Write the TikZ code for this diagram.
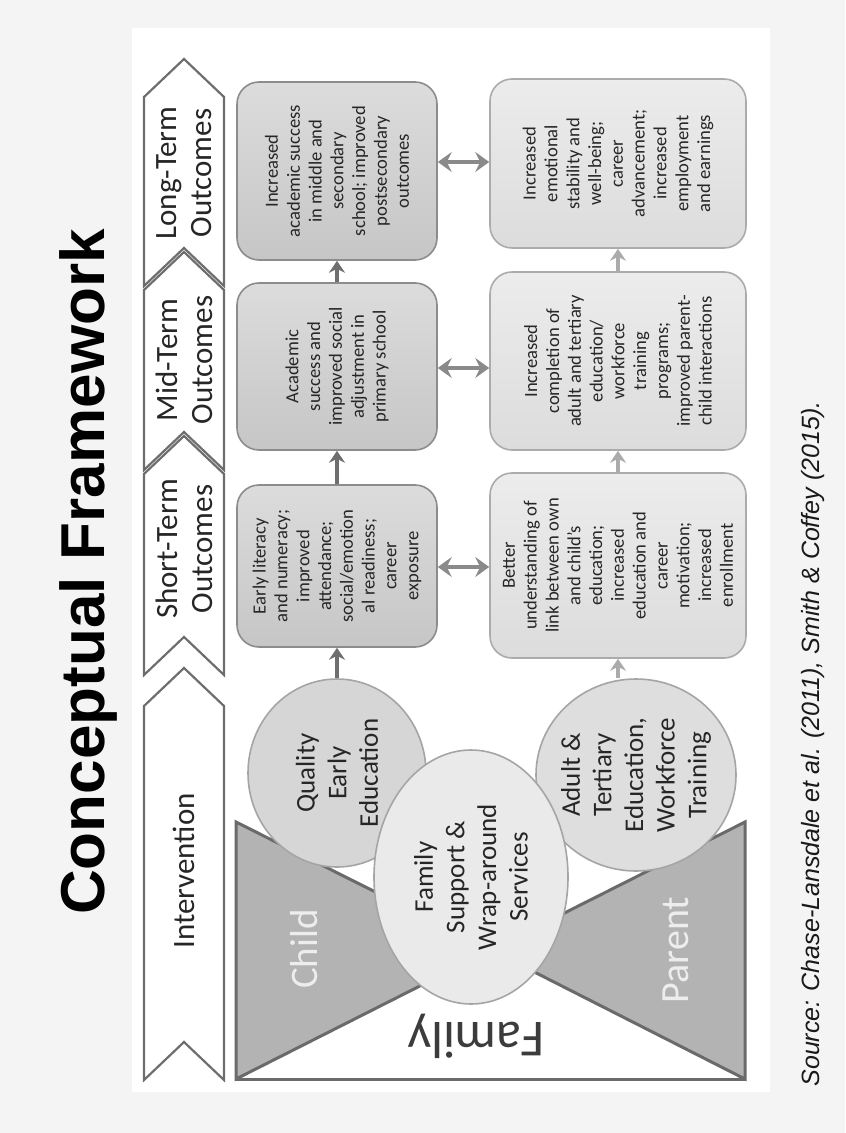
\documentclass[tikz,border=0pt]{standalone}
\usepackage{fontspec}
\setmainfont{Carlito}
\newfontfamily\arialf{Liberation Sans}
\usetikzlibrary{arrows.meta,shapes.geometric,calc}
\definecolor{bgc}{HTML}{F4F4F4}
\definecolor{chevc}{HTML}{6E6E6E}
\definecolor{txtc}{HTML}{262626}
\definecolor{boxAl}{HTML}{DCDCDC}
\definecolor{boxAr}{HTML}{C6C6C6}
\definecolor{boxAd}{HTML}{8C8C8C}
\definecolor{boxBl}{HTML}{ECECEC}
\definecolor{boxBr}{HTML}{DCDCDC}
\definecolor{boxBd}{HTML}{ABABAB}
\definecolor{ellQ}{HTML}{D6D6D6}
\definecolor{ellA}{HTML}{DEDEDE}
\definecolor{ellF}{HTML}{EAEAEA}
\definecolor{elld}{HTML}{A5A5A5}
\definecolor{tric}{HTML}{B3B3B3}
\definecolor{trid}{HTML}{6A6A6A}
\definecolor{arrTc}{HTML}{6E6E6E}
\definecolor{arrBc}{HTML}{ABABAB}
\definecolor{dblc}{HTML}{8A8A8A}
\definecolor{kidc}{HTML}{EDEDED}
\tikzset{
  chev/.style={draw=chevc, line width=1.1pt, fill=white, line join=miter},
  chevtxt/.style={rotate=90, align=center, text=txtc, font=\fontsize{15.5}{17.5}\selectfont, inner sep=0pt},
  boxA/.style={rotate=90, draw=boxAd, top color=boxAl, bottom color=boxAr, rounded corners=11pt, line width=0.8pt, inner sep=0pt, align=center, text=txtc, font=\fontsize{9.3}{10.9}\selectfont, minimum height=100pt},
  boxB/.style={rotate=90, draw=boxBd, top color=boxBl, bottom color=boxBr, rounded corners=11pt, line width=0.8pt, inner sep=0pt, align=center, text=txtc, font=\fontsize{9.3}{10.9}\selectfont, minimum height=128pt},
  ell/.style={ellipse, draw=elld, line width=0.8pt, inner sep=0pt},
  elltxt/.style={rotate=90, align=center, text=black!85, font=\fontsize{13.5}{15.8}\selectfont, inner sep=0pt},
  tri/.style={draw=trid, fill=tric, line width=1.5pt, line join=miter},
  arrT/.style={draw=arrTc, line width=1.6pt, -{Stealth[length=6pt,width=8pt,inset=2pt]}},
  arrB/.style={draw=arrBc, line width=1.6pt, -{Stealth[length=6pt,width=8pt,inset=2pt]}},
  dbl/.style={draw=dblc, line width=2.2pt, {Stealth[length=7pt,width=10pt,inset=2.5pt]}-{Stealth[length=7pt,width=10pt,inset=2.5pt]}},
}
\begin{document}
\begin{tikzpicture}[x=0.5pt,y=-0.5pt]
\useasboundingbox (0,0) rectangle (845,1133);
\fill[bgc] (0,0) rectangle (845,1133);
\fill[white] (132,28) rectangle (770,1092);

% chevrons
\draw[chev] (184,59) -- (224,97) -- (224,286) -- (184,248) -- (144,286) -- (144,97) -- cycle;
\draw[chev] (184,252) -- (224,290) -- (224,470) -- (184,432) -- (144,470) -- (144,290) -- cycle;
\draw[chev] (184,436) -- (224,474) -- (224,675) -- (184,637) -- (144,675) -- (144,474) -- cycle;
\draw[chev] (184,668) -- (224,706) -- (224,1080) -- (184,1042) -- (144,1080) -- (144,706) -- cycle;
\node[chevtxt] (cLT) at (184,173) {Long-Term\\Outcomes};
\node[chevtxt] (cMT) at (184,360) {Mid-Term\\Outcomes};
\node[chevtxt] (cST) at (184,549) {Short-Term\\Outcomes};
\node[chevtxt] (cIN) at (184,871) {Intervention};

% bow tie
\draw[tri] (236,822) -- (491,950) -- (236,1079) -- cycle;
\draw[tri] (745,822) -- (491,950) -- (745,1079) -- cycle;
\draw[draw=trid, line width=1.5pt] (236,1079) -- (745,1079);

% ellipses
\node[ell, fill=ellQ, minimum width=89pt, minimum height=94pt] (eQ) at (337,773) {};
\node[ell, fill=ellA, minimum width=100pt, minimum height=96pt] (eA) at (636,775) {};
\node[ell, fill=ellF, minimum width=97pt, minimum height=127pt] (eF) at (471,877) {};
\node[elltxt] (tQ) at (eQ.center) {Quality\\Early\\Education};
\node[elltxt] (tA) at (eA.center) {Adult \&\\Tertiary\\Education,\\Workforce\\Training};
\node[elltxt] (tF) at (eF.center) {Family\\Support \&\\Wrap-around\\Services};

\node[rotate=90, anchor=base, text=kidc, font=\fontsize{19.5}{19.5}\selectfont] (child) at (317,949) {Child};
\node[rotate=90, anchor=base, text=kidc, font=\fontsize{20}{20}\selectfont] (parent) at (688,950) {Parent};
\node[rotate=180, anchor=base, text=txtc!90, font=\fontsize{26}{26}\selectfont] (fam) at (476,1022) {Family};

% boxes
\node[boxA, minimum width=89pt] (tLT) at (337,171) {Increased\\academic success\\in middle and\\secondary\\school; improved\\postsecondary\\outcomes};
\node[boxA, minimum width=83.5pt] (tMT) at (337,366.5) {Academic\\success and\\improved social\\adjustment in\\primary school};
\node[boxA, minimum width=81pt] (tST) at (337,566) {Early literacy\\and numeracy;\\improved\\attendance;\\social/emotion\\al readiness;\\career\\exposure};
\node[boxB, minimum width=84.5pt] (bLT) at (618,163.5) {Increased\\emotional\\stability and\\well-being;\\career\\advancement;\\increased\\employment\\and earnings};
\node[boxB, minimum width=89pt] (bMT) at (618,361) {Increased\\completion of\\adult and tertiary\\education/\\workforce\\training\\programs;\\improved parent-\\child interactions};
\node[boxB, minimum width=92.5pt] (bST) at (618,565.5) {Better\\understanding of\\link between own\\and child’s\\education;\\increased\\education and\\career\\motivation;\\increased\\enrollment};

% arrows
\draw[arrT] (eQ) -- (tST);
\draw[arrT] (tST) -- (tMT);
\draw[arrT] (tMT) -- (tLT);
\draw[arrB] (eA.north -| bST) -- (bST);
\draw[arrB] (bST) -- (bMT);
\draw[arrB] (bMT) -- (bLT);
\draw[dbl] (tLT.south |- 0,162) -- (bLT.north |- 0,162);
\draw[dbl] (tMT.south |- 0,368) -- (bMT.north |- 0,368);
\draw[dbl] (tST.south |- 0,567) -- (bST.north |- 0,567);

% title and source
\node[rotate=90, anchor=base, text=black, font=\arialf\bfseries\fontsize{31}{31}\selectfont] (title) at (104,572) {Conceptual Framework};
\node[rotate=90, anchor=base, text=black!90, font=\arialf\itshape\fontsize{12.5}{12.5}\selectfont] (src) at (819,744) {Source: Chase-Lansdale et al. (2011), Smith \& Coffey (2015).};
\end{tikzpicture}
\end{document}
